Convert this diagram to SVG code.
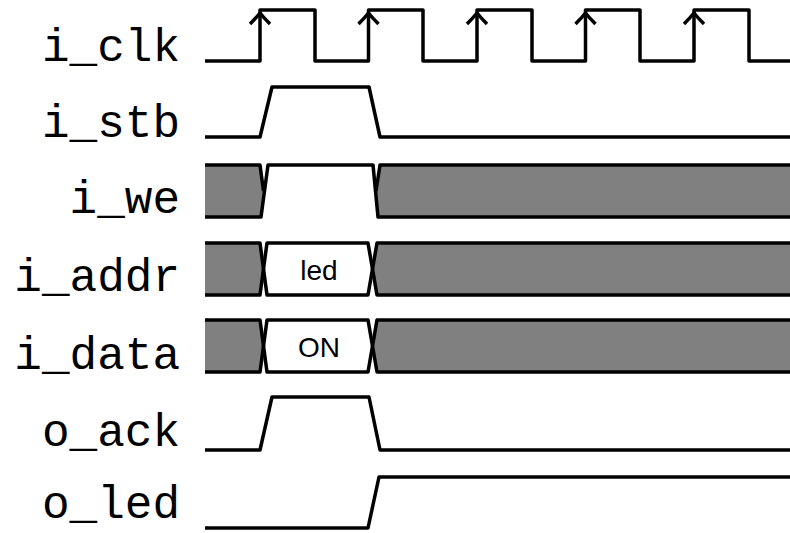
<svg xmlns="http://www.w3.org/2000/svg" width="790" height="533" viewBox="0 0 790 533">
<style>
.w{fill:none;stroke:#000;stroke-width:3.5;stroke-linejoin:round;stroke-linecap:butt}
.g{fill:#808080;stroke:none}
.lbl{font-family:"Liberation Mono","DejaVu Sans Mono",monospace;font-size:46px;fill:#000;text-anchor:end}
.val{font-family:"Liberation Sans","DejaVu Sans",sans-serif;font-size:28px;fill:#000;text-anchor:middle}
</style>
<rect width="790" height="533" fill="#fff"/>
<g id="labels">
<text class="lbl" x="180" y="61">i_clk</text>
<text class="lbl" x="180" y="137">i_stb</text>
<text class="lbl" x="180" y="213">i_we</text>
<text class="lbl" x="180" y="291">i_addr</text>
<text class="lbl" x="180" y="369">i_data</text>
<text class="lbl" x="180" y="446">o_ack</text>
<text class="lbl" x="180" y="518">o_led</text>
</g>
<g id="connectors">
<g id="i_clk">
<path class="w" d="M205,61 H260 V10 H315 V61 H368.5 V10 H423 V61 H477 V10 H532 V61 H585.5 V10 H640 V61 H694 V10 H749 V61 H790"/>
<path class="w" d="M250,24 Q256,18 260,13 Q264,18 270,24"/>
<path class="w" d="M358.5,24 Q364.5,18 368.5,13 Q372.5,18 378.5,24"/>
<path class="w" d="M467,24 Q473,18 477,13 Q481,18 487,24"/>
<path class="w" d="M575.5,24 Q581.5,18 585.5,13 Q589.5,18 595.5,24"/>
<path class="w" d="M684,24 Q690,18 694,13 Q698,18 704,24"/>
</g>
<g id="i_stb">
<path class="w" d="M205,137 H260 L272,87 H369 L380,137 H790"/>
</g>
<g id="i_we">
<path class="g" d="M205,165 H260 L263.5,191 L261,217 H205 Z"/>
<path class="g" d="M380,165 L376,191 L378,217 H790 V165 Z"/>
<path class="w" d="M205,165 H260 L263.5,191"/>
<path class="w" d="M205,217 H261 L268,165 H373 L378,217 H790"/>
<path class="w" d="M376,191 L380,165 H790"/>
</g>
<g id="i_addr">
<path class="g" d="M205,243 H260 L263.5,269 L260,295 H205 Z"/>
<path class="g" d="M377,243 L372.5,269 L377,295 H790 V243 Z"/>
<path class="w" d="M205,243 H260 L267,295 H368 L377,243 H790"/>
<path class="w" d="M205,295 H260 L267,243 H368 L377,295 H790"/>
<text class="val" x="319" y="280">led</text>
</g>
<g id="i_data">
<path class="g" d="M205,320 H260 L263.5,346 L260,372 H205 Z"/>
<path class="g" d="M377,320 L372.5,346 L377,372 H790 V320 Z"/>
<path class="w" d="M205,320 H260 L267,372 H368 L377,320 H790"/>
<path class="w" d="M205,372 H260 L267,320 H368 L377,372 H790"/>
<text class="val" x="319" y="357">ON</text>
</g>
<g id="o_ack">
<path class="w" d="M205,450 H260 L272,397 H369 L380,450 H790"/>
</g>
<g id="o_led">
<path class="w" d="M205,528 H368 L379,477 H790"/>
</g>
</g>
</svg>
